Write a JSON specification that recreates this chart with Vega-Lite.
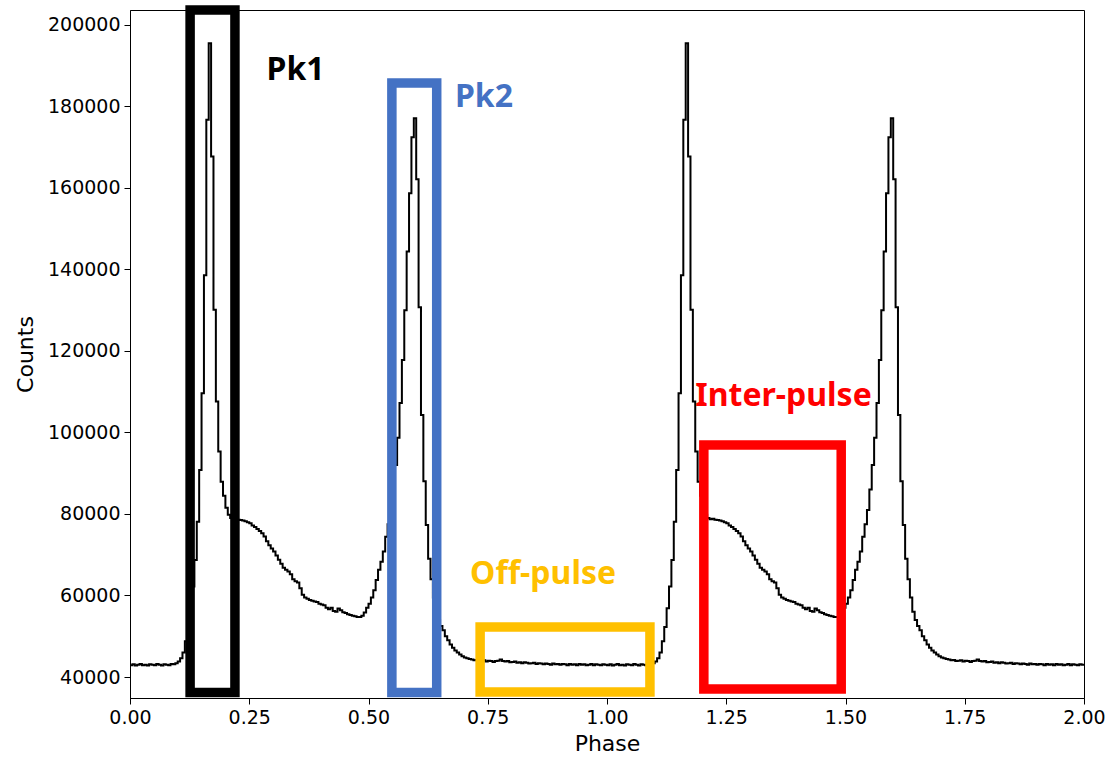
{
  "$schema": "https://vega.github.io/schema/vega-lite/v6.json",
  "width": 954,
  "height": 688,
  "autosize": "none",
  "padding": {"left": 130, "top": 10, "right": 34, "bottom": 61},
  "background": "white",
  "config": {
    "view": {"stroke": "black", "strokeWidth": 1},
    "axis": {
      "grid": false,
      "domainColor": "black",
      "tickColor": "black",
      "labelColor": "black",
      "titleColor": "black",
      "labelFont": "DejaVu Sans",
      "titleFont": "DejaVu Sans",
      "labelFontSize": 19,
      "titleFontSize": 22,
      "titleFontWeight": "normal",
      "tickSize": 6,
      "labelPadding": 4,
      "labelFlush": false,
      "labelOverlap": false
    }
  },
  "datasets": {
    "profile": [
      {"phase":0.000,"counts":42900},{"phase":0.005,"counts":43100},{"phase":0.010,"counts":42800},{"phase":0.015,"counts":43000},{"phase":0.020,"counts":43200},
      {"phase":0.025,"counts":42900},{"phase":0.030,"counts":43000},{"phase":0.035,"counts":42800},{"phase":0.040,"counts":43100},{"phase":0.045,"counts":43000},
      {"phase":0.050,"counts":42900},{"phase":0.055,"counts":43200},{"phase":0.060,"counts":43000},{"phase":0.065,"counts":42800},{"phase":0.070,"counts":43100},
      {"phase":0.075,"counts":43000},{"phase":0.080,"counts":42900},{"phase":0.085,"counts":43200},{"phase":0.090,"counts":43100},{"phase":0.095,"counts":43400},
      {"phase":0.100,"counts":43800},{"phase":0.105,"counts":44600},{"phase":0.110,"counts":46000},{"phase":0.115,"counts":48800},{"phase":0.120,"counts":52300},
      {"phase":0.125,"counts":56900},{"phase":0.130,"counts":62200},{"phase":0.135,"counts":68700},{"phase":0.140,"counts":78100},{"phase":0.145,"counts":90800},
      {"phase":0.150,"counts":109600},{"phase":0.155,"counts":138600},{"phase":0.160,"counts":176700},{"phase":0.165,"counts":195500},{"phase":0.170,"counts":167700},
      {"phase":0.175,"counts":130100},{"phase":0.180,"counts":107600},{"phase":0.185,"counts":95300},{"phase":0.190,"counts":87900},{"phase":0.195,"counts":84500},
      {"phase":0.200,"counts":81500},{"phase":0.205,"counts":79800},{"phase":0.210,"counts":79000},{"phase":0.215,"counts":78700},{"phase":0.220,"counts":78800},
      {"phase":0.225,"counts":78600},{"phase":0.230,"counts":78500},{"phase":0.235,"counts":78400},{"phase":0.240,"counts":78200},{"phase":0.245,"counts":78000},
      {"phase":0.250,"counts":77700},{"phase":0.255,"counts":77200},{"phase":0.260,"counts":76800},{"phase":0.265,"counts":76300},{"phase":0.270,"counts":75800},
      {"phase":0.275,"counts":75300},{"phase":0.280,"counts":74500},{"phase":0.285,"counts":73300},{"phase":0.290,"counts":72300},{"phase":0.295,"counts":71500},
      {"phase":0.300,"counts":70800},{"phase":0.305,"counts":69800},{"phase":0.310,"counts":68800},{"phase":0.315,"counts":67800},{"phase":0.320,"counts":66800},
      {"phase":0.325,"counts":66300},{"phase":0.330,"counts":65900},{"phase":0.335,"counts":65200},{"phase":0.340,"counts":64000},{"phase":0.345,"counts":63500},
      {"phase":0.350,"counts":63200},{"phase":0.355,"counts":61800},{"phase":0.360,"counts":60200},{"phase":0.365,"counts":59500},{"phase":0.370,"counts":59200},
      {"phase":0.375,"counts":58900},{"phase":0.380,"counts":58700},{"phase":0.385,"counts":58500},{"phase":0.390,"counts":58400},{"phase":0.395,"counts":58000},
      {"phase":0.400,"counts":57800},{"phase":0.405,"counts":57600},{"phase":0.410,"counts":57000},{"phase":0.415,"counts":56600},{"phase":0.420,"counts":57000},
      {"phase":0.425,"counts":56200},{"phase":0.430,"counts":56000},{"phase":0.435,"counts":56800},{"phase":0.440,"counts":56400},{"phase":0.445,"counts":55900},
      {"phase":0.450,"counts":55700},{"phase":0.455,"counts":55400},{"phase":0.460,"counts":55200},{"phase":0.465,"counts":55000},{"phase":0.470,"counts":54900},
      {"phase":0.475,"counts":54700},{"phase":0.480,"counts":54700},{"phase":0.485,"counts":55000},{"phase":0.490,"counts":55800},{"phase":0.495,"counts":57000},
      {"phase":0.500,"counts":58000},{"phase":0.505,"counts":59500},{"phase":0.510,"counts":61300},{"phase":0.515,"counts":63800},{"phase":0.520,"counts":66300},
      {"phase":0.525,"counts":68300},{"phase":0.530,"counts":70800},{"phase":0.535,"counts":74400},{"phase":0.540,"counts":77500},{"phase":0.545,"counts":81000},
      {"phase":0.550,"counts":86000},{"phase":0.555,"counts":92000},{"phase":0.560,"counts":98700},{"phase":0.565,"counts":107200},{"phase":0.570,"counts":117800},
      {"phase":0.575,"counts":130000},{"phase":0.580,"counts":144400},{"phase":0.585,"counts":158700},{"phase":0.590,"counts":172400},{"phase":0.595,"counts":177100},
      {"phase":0.600,"counts":162100},{"phase":0.605,"counts":130700},{"phase":0.610,"counts":104300},{"phase":0.615,"counts":88000},{"phase":0.620,"counts":77300},
      {"phase":0.625,"counts":69000},{"phase":0.630,"counts":64000},{"phase":0.635,"counts":59500},{"phase":0.640,"counts":56000},{"phase":0.645,"counts":54000},
      {"phase":0.650,"counts":52500},{"phase":0.655,"counts":51500},{"phase":0.660,"counts":50000},{"phase":0.665,"counts":49000},{"phase":0.670,"counts":48000},
      {"phase":0.675,"counts":47200},{"phase":0.680,"counts":46500},{"phase":0.685,"counts":46000},{"phase":0.690,"counts":45500},{"phase":0.695,"counts":45100},
      {"phase":0.700,"counts":44800},{"phase":0.705,"counts":44600},{"phase":0.710,"counts":44400},{"phase":0.715,"counts":44300},{"phase":0.720,"counts":44100},
      {"phase":0.725,"counts":44200},{"phase":0.730,"counts":43900},{"phase":0.735,"counts":44000},{"phase":0.740,"counts":44100},{"phase":0.745,"counts":43800},
      {"phase":0.750,"counts":44000},{"phase":0.755,"counts":43900},{"phase":0.760,"counts":43700},{"phase":0.765,"counts":43900},{"phase":0.770,"counts":44000},
      {"phase":0.775,"counts":44300},{"phase":0.780,"counts":43900},{"phase":0.785,"counts":43800},{"phase":0.790,"counts":43900},{"phase":0.795,"counts":43600},
      {"phase":0.800,"counts":43700},{"phase":0.805,"counts":43800},{"phase":0.810,"counts":43500},{"phase":0.815,"counts":43600},{"phase":0.820,"counts":43400},
      {"phase":0.825,"counts":43600},{"phase":0.830,"counts":43500},{"phase":0.835,"counts":43300},{"phase":0.840,"counts":43400},{"phase":0.845,"counts":43500},
      {"phase":0.850,"counts":43200},{"phase":0.855,"counts":43400},{"phase":0.860,"counts":43300},{"phase":0.865,"counts":43100},{"phase":0.870,"counts":43300},
      {"phase":0.875,"counts":43200},{"phase":0.880,"counts":43000},{"phase":0.885,"counts":43300},{"phase":0.890,"counts":43100},{"phase":0.895,"counts":43200},
      {"phase":0.900,"counts":43000},{"phase":0.905,"counts":43200},{"phase":0.910,"counts":43100},{"phase":0.915,"counts":42900},{"phase":0.920,"counts":43200},
      {"phase":0.925,"counts":43000},{"phase":0.930,"counts":43100},{"phase":0.935,"counts":42900},{"phase":0.940,"counts":43200},{"phase":0.945,"counts":43000},
      {"phase":0.950,"counts":43100},{"phase":0.955,"counts":42900},{"phase":0.960,"counts":43000},{"phase":0.965,"counts":43200},{"phase":0.970,"counts":42900},
      {"phase":0.975,"counts":43100},{"phase":0.980,"counts":43000},{"phase":0.985,"counts":42900},{"phase":0.990,"counts":43100},{"phase":0.995,"counts":43000},
      {"phase":1.000,"counts":42900},{"phase":1.005,"counts":43100},{"phase":1.010,"counts":42800},{"phase":1.015,"counts":43000},{"phase":1.020,"counts":43200},
      {"phase":1.025,"counts":42900},{"phase":1.030,"counts":43000},{"phase":1.035,"counts":42800},{"phase":1.040,"counts":43100},{"phase":1.045,"counts":43000},
      {"phase":1.050,"counts":42900},{"phase":1.055,"counts":43200},{"phase":1.060,"counts":43000},{"phase":1.065,"counts":42800},{"phase":1.070,"counts":43100},
      {"phase":1.075,"counts":43000},{"phase":1.080,"counts":42900},{"phase":1.085,"counts":43200},{"phase":1.090,"counts":43100},{"phase":1.095,"counts":43400},
      {"phase":1.100,"counts":43800},{"phase":1.105,"counts":44600},{"phase":1.110,"counts":46000},{"phase":1.115,"counts":48800},{"phase":1.120,"counts":52300},
      {"phase":1.125,"counts":56900},{"phase":1.130,"counts":62200},{"phase":1.135,"counts":68700},{"phase":1.140,"counts":78100},{"phase":1.145,"counts":90800},
      {"phase":1.150,"counts":109600},{"phase":1.155,"counts":138600},{"phase":1.160,"counts":176700},{"phase":1.165,"counts":195500},{"phase":1.170,"counts":167700},
      {"phase":1.175,"counts":130100},{"phase":1.180,"counts":107600},{"phase":1.185,"counts":95300},{"phase":1.190,"counts":87900},{"phase":1.195,"counts":84500},
      {"phase":1.200,"counts":81500},{"phase":1.205,"counts":79800},{"phase":1.210,"counts":79000},{"phase":1.215,"counts":78700},{"phase":1.220,"counts":78800},
      {"phase":1.225,"counts":78600},{"phase":1.230,"counts":78500},{"phase":1.235,"counts":78400},{"phase":1.240,"counts":78200},{"phase":1.245,"counts":78000},
      {"phase":1.250,"counts":77700},{"phase":1.255,"counts":77200},{"phase":1.260,"counts":76800},{"phase":1.265,"counts":76300},{"phase":1.270,"counts":75800},
      {"phase":1.275,"counts":75300},{"phase":1.280,"counts":74500},{"phase":1.285,"counts":73300},{"phase":1.290,"counts":72300},{"phase":1.295,"counts":71500},
      {"phase":1.300,"counts":70800},{"phase":1.305,"counts":69800},{"phase":1.310,"counts":68800},{"phase":1.315,"counts":67800},{"phase":1.320,"counts":66800},
      {"phase":1.325,"counts":66300},{"phase":1.330,"counts":65900},{"phase":1.335,"counts":65200},{"phase":1.340,"counts":64000},{"phase":1.345,"counts":63500},
      {"phase":1.350,"counts":63200},{"phase":1.355,"counts":61800},{"phase":1.360,"counts":60200},{"phase":1.365,"counts":59500},{"phase":1.370,"counts":59200},
      {"phase":1.375,"counts":58900},{"phase":1.380,"counts":58700},{"phase":1.385,"counts":58500},{"phase":1.390,"counts":58400},{"phase":1.395,"counts":58000},
      {"phase":1.400,"counts":57800},{"phase":1.405,"counts":57600},{"phase":1.410,"counts":57000},{"phase":1.415,"counts":56600},{"phase":1.420,"counts":57000},
      {"phase":1.425,"counts":56200},{"phase":1.430,"counts":56000},{"phase":1.435,"counts":56800},{"phase":1.440,"counts":56400},{"phase":1.445,"counts":55900},
      {"phase":1.450,"counts":55700},{"phase":1.455,"counts":55400},{"phase":1.460,"counts":55200},{"phase":1.465,"counts":55000},{"phase":1.470,"counts":54900},
      {"phase":1.475,"counts":54700},{"phase":1.480,"counts":54700},{"phase":1.485,"counts":55000},{"phase":1.490,"counts":55800},{"phase":1.495,"counts":57000},
      {"phase":1.500,"counts":58000},{"phase":1.505,"counts":59500},{"phase":1.510,"counts":61300},{"phase":1.515,"counts":63800},{"phase":1.520,"counts":66300},
      {"phase":1.525,"counts":68300},{"phase":1.530,"counts":70800},{"phase":1.535,"counts":74400},{"phase":1.540,"counts":77500},{"phase":1.545,"counts":81000},
      {"phase":1.550,"counts":86000},{"phase":1.555,"counts":92000},{"phase":1.560,"counts":98700},{"phase":1.565,"counts":107200},{"phase":1.570,"counts":117800},
      {"phase":1.575,"counts":130000},{"phase":1.580,"counts":144400},{"phase":1.585,"counts":158700},{"phase":1.590,"counts":172400},{"phase":1.595,"counts":177100},
      {"phase":1.600,"counts":162100},{"phase":1.605,"counts":130700},{"phase":1.610,"counts":104300},{"phase":1.615,"counts":88000},{"phase":1.620,"counts":77300},
      {"phase":1.625,"counts":69000},{"phase":1.630,"counts":64000},{"phase":1.635,"counts":59500},{"phase":1.640,"counts":56000},{"phase":1.645,"counts":54000},
      {"phase":1.650,"counts":52500},{"phase":1.655,"counts":51500},{"phase":1.660,"counts":50000},{"phase":1.665,"counts":49000},{"phase":1.670,"counts":48000},
      {"phase":1.675,"counts":47200},{"phase":1.680,"counts":46500},{"phase":1.685,"counts":46000},{"phase":1.690,"counts":45500},{"phase":1.695,"counts":45100},
      {"phase":1.700,"counts":44800},{"phase":1.705,"counts":44600},{"phase":1.710,"counts":44400},{"phase":1.715,"counts":44300},{"phase":1.720,"counts":44100},
      {"phase":1.725,"counts":44200},{"phase":1.730,"counts":43900},{"phase":1.735,"counts":44000},{"phase":1.740,"counts":44100},{"phase":1.745,"counts":43800},
      {"phase":1.750,"counts":44000},{"phase":1.755,"counts":43900},{"phase":1.760,"counts":43700},{"phase":1.765,"counts":43900},{"phase":1.770,"counts":44000},
      {"phase":1.775,"counts":44300},{"phase":1.780,"counts":43900},{"phase":1.785,"counts":43800},{"phase":1.790,"counts":43900},{"phase":1.795,"counts":43600},
      {"phase":1.800,"counts":43700},{"phase":1.805,"counts":43800},{"phase":1.810,"counts":43500},{"phase":1.815,"counts":43600},{"phase":1.820,"counts":43400},
      {"phase":1.825,"counts":43600},{"phase":1.830,"counts":43500},{"phase":1.835,"counts":43300},{"phase":1.840,"counts":43400},{"phase":1.845,"counts":43500},
      {"phase":1.850,"counts":43200},{"phase":1.855,"counts":43400},{"phase":1.860,"counts":43300},{"phase":1.865,"counts":43100},{"phase":1.870,"counts":43300},
      {"phase":1.875,"counts":43200},{"phase":1.880,"counts":43000},{"phase":1.885,"counts":43300},{"phase":1.890,"counts":43100},{"phase":1.895,"counts":43200},
      {"phase":1.900,"counts":43000},{"phase":1.905,"counts":43200},{"phase":1.910,"counts":43100},{"phase":1.915,"counts":42900},{"phase":1.920,"counts":43200},
      {"phase":1.925,"counts":43000},{"phase":1.930,"counts":43100},{"phase":1.935,"counts":42900},{"phase":1.940,"counts":43200},{"phase":1.945,"counts":43000},
      {"phase":1.950,"counts":43100},{"phase":1.955,"counts":42900},{"phase":1.960,"counts":43000},{"phase":1.965,"counts":43200},{"phase":1.970,"counts":42900},
      {"phase":1.975,"counts":43100},{"phase":1.980,"counts":43000},{"phase":1.985,"counts":42900},{"phase":1.990,"counts":43100},{"phase":1.995,"counts":43000},
      {"phase":2.000,"counts":43000}
    ],
    "boxes": [
      {"region":"Pk1","x1":0.126,"x2":0.220,"y1":36200,"y2":203680,"color":"#000000"},
      {"region":"Pk2","x1":0.549,"x2":0.643,"y1":36200,"y2":185770,"color":"#4472C4"},
      {"region":"Off-pulse","x1":0.734,"x2":1.090,"y1":36300,"y2":52270,"color":"#FFC000"},
      {"region":"Inter-pulse","x1":1.203,"x2":1.491,"y1":37060,"y2":96930,"color":"#FF0000"}
    ],
    "labels": [
      {"text":"Pk1","phase":0.347,"counts":186400,"color":"#000000"},
      {"text":"Pk2","phase":0.742,"counts":179800,"color":"#4472C4"},
      {"text":"Off-pulse","phase":0.866,"counts":62800,"color":"#FFC000"},
      {"text":"Inter-pulse","phase":1.370,"counts":106500,"color":"#FF0000"}
    ]
  },
  "layer": [
    {
      "data": {"name": "profile"},
      "mark": {"type": "line", "interpolate": "step-after", "color": "black", "strokeWidth": 2},
      "encoding": {
        "x": {
          "field": "phase", "type": "quantitative",
          "scale": {"domain": [0, 2], "nice": false, "zero": false},
          "axis": {"title": "Phase", "values": [0, 0.25, 0.5, 0.75, 1, 1.25, 1.5, 1.75, 2], "format": ".2f", "titlePadding": 6}
        },
        "y": {
          "field": "counts", "type": "quantitative",
          "scale": {"domain": [34850, 203650], "nice": false, "zero": false},
          "axis": {"title": "Counts", "values": [40000, 60000, 80000, 100000, 120000, 140000, 160000, 180000, 200000], "format": "d", "titlePadding": 10}
        }
      }
    },
    {
      "data": {"name": "boxes"},
      "mark": {"type": "rect", "filled": false, "strokeWidth": 9.5, "clip": false},
      "encoding": {
        "x": {"field": "x1", "type": "quantitative"},
        "x2": {"field": "x2"},
        "y": {"field": "y1", "type": "quantitative"},
        "y2": {"field": "y2"},
        "stroke": {"field": "color", "type": "nominal", "scale": null}
      }
    },
    {
      "data": {"name": "labels"},
      "mark": {"type": "text", "font": "Noto Sans", "fontWeight": "bold", "fontSize": 32, "align": "center", "baseline": "alphabetic"},
      "encoding": {
        "x": {"field": "phase", "type": "quantitative"},
        "y": {"field": "counts", "type": "quantitative"},
        "text": {"field": "text", "type": "nominal"},
        "color": {"field": "color", "type": "nominal", "scale": null}
      }
    }
  ]
}
